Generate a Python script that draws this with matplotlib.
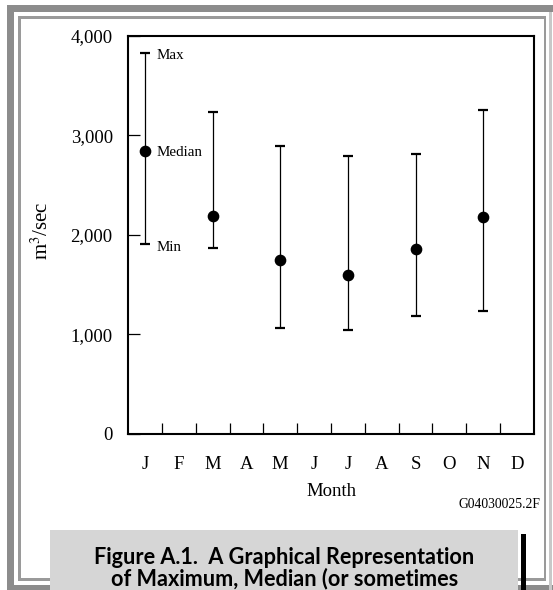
import matplotlib
matplotlib.use('Agg')
import matplotlib.pyplot as plt
from matplotlib.patches import Rectangle
from matplotlib.ticker import FuncFormatter

# monthly flow summary (m3/sec)
months = ['J', 'F', 'M', 'A', 'M', 'J', 'J', 'A', 'S', 'O', 'N', 'D']
plotted_months = [0, 2, 4, 6, 8, 10]
flow_max = [3825, 3230, 2890, 2790, 2810, 3250]
flow_median = [2840, 2190, 1750, 1600, 1855, 2175]
flow_min = [1910, 1870, 1065, 1040, 1185, 1235]
y_ticks = [0, 1000, 2000, 3000, 4000]

plt.rcParams['font.family'] = 'Liberation Serif'
plt.rcParams['mathtext.fontset'] = 'stix'

W, H = 553, 590
fig = plt.figure(figsize=(W / 100, H / 100), dpi=100)


def box(x0, y0, x1, y1, color, z=1):
    # rectangle given in pixels from the top-left corner
    fig.add_artist(Rectangle((x0 / W, 1 - y1 / H), (x1 - x0) / W, (y1 - y0) / H,
                             transform=fig.transFigure, facecolor=color,
                             edgecolor='none', zorder=z))


# page frame
box(7, 5, 553, 11.5, '#8c8c8c')
box(7, 5, 14, 590, '#8c8c8c')
box(7, 585, 553, 590, '#8c8c8c')
box(549, 11.5, 551.5, 590, '#c8c8c8')
box(18, 16, 546, 18.5, '#9a9a9a')
box(18, 16, 20.5, 580.5, '#9a9a9a')
box(543.5, 16, 546, 580.5, '#9a9a9a')
box(18, 578, 546, 580.5, '#9a9a9a')

# caption panel
box(50, 530, 518, 590, '#d6d6d6', z=2)
box(521, 534, 526, 590, 'black', z=2)
fig.text(284 / W, 1 - 557 / H, 'Figure A.1.  A Graphical Representation',
         ha='center', va='center', fontsize=15.6, family='Lato', weight='bold', zorder=3)
fig.text(285 / W, 1 - 579 / H, 'of Maximum, Median (or sometimes',
         ha='center', va='center', fontsize=15.6, family='Lato', weight='bold', zorder=3)

ax = fig.add_axes([128 / W, 1 - 434 / H, 406 / W, 398.5 / H])

x = [m + 0.5 for m in plotted_months]
lower = [md - mn for md, mn in zip(flow_median, flow_min)]
upper = [mx - md for mx, md in zip(flow_max, flow_median)]
ax.errorbar(x, flow_median, yerr=[lower, upper], fmt='o', color='black',
            ms=7.4, elinewidth=0.9, capsize=3.8, capthick=1.6)

# legend-like labels on the first bar
ax.annotate('Max', xy=(x[0], flow_max[0]), xytext=(8, -2), textcoords='offset points',
            va='center', fontsize=10.8)
ax.annotate('Median', xy=(x[0], flow_median[0]), xytext=(8, -1), textcoords='offset points',
            va='center', fontsize=10.8)
ax.annotate('Min', xy=(x[0], flow_min[0]), xytext=(8, -3), textcoords='offset points',
            va='center', fontsize=10.8)

ax.set_xlim(0, 12)
ax.set_ylim(0, 4000)
ax.set_xticks([i + 0.5 for i in range(12)])
ax.set_xticklabels(months, fontsize=13.5)
ax.set_xticks(range(1, 12), minor=True)
ax.tick_params(axis='x', which='major', length=0, pad=16)
ax.tick_params(axis='x', which='minor', direction='in', length=8, width=0.9)
ax.set_yticks(y_ticks)
ax.yaxis.set_major_formatter(FuncFormatter(lambda v, p: f'{int(v):,}'))
ax.tick_params(axis='y', direction='in', length=8.5, width=0.9, pad=11, labelsize=13.5)
for s in ax.spines.values():
    s.set_linewidth(1.5)

ax.set_xlabel('Month', fontsize=13.5, va='center')
ax.xaxis.set_label_coords(0.5, -58 / 398.5)
ax.set_ylabel('m$^3$/sec', fontsize=15, va='center')
ax.yaxis.set_label_coords(-86 / 406, 0.51)

fig.text(540 / W, 1 - 505 / H, 'G04030025.2F', ha='right', va='center', fontsize=9.8)

fig.savefig('out.png', dpi=100)
